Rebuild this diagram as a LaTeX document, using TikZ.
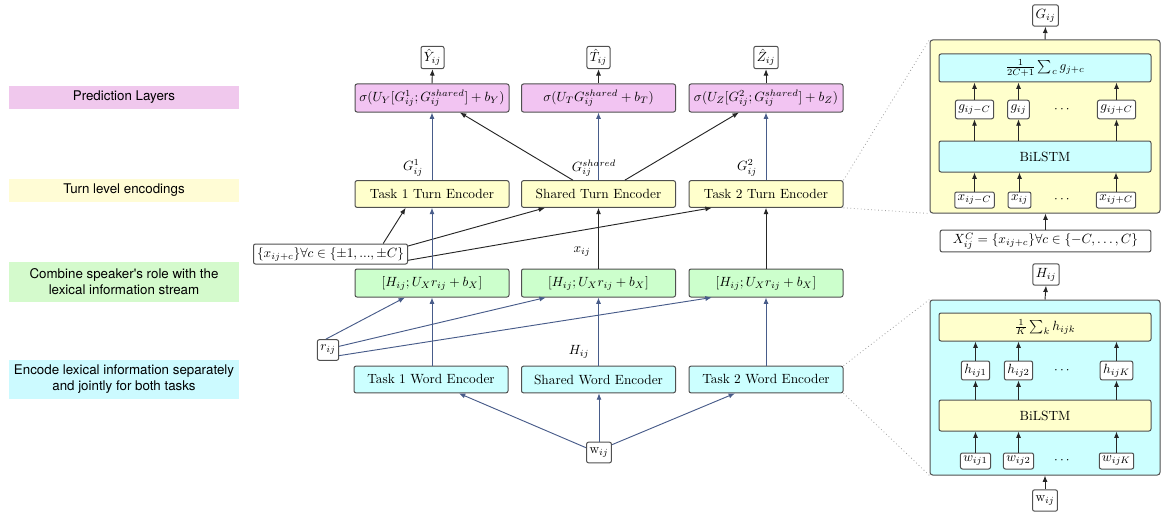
\documentclass[tikz,border=0pt]{standalone}
\usepackage{fontspec}
\usepackage{amsmath}
\newfontfamily\labelfont{TeX Gyre Heros}
\usetikzlibrary{arrows.meta,calc}
\definecolor{boxline}{RGB}{80,80,80}
\definecolor{pinkfill}{RGB}{242,196,242}
\definecolor{yellowfill}{RGB}{255,255,204}
\definecolor{greenfill}{RGB}{204,255,204}
\definecolor{cyanfill}{RGB}{204,255,255}
\definecolor{lpink}{RGB}{240,200,237}
\definecolor{lyellow}{RGB}{255,252,213}
\definecolor{lgreen}{RGB}{212,250,204}
\definecolor{lcyan}{RGB}{204,250,255}
\definecolor{arrowblue}{RGB}{72,92,138}
\definecolor{zoomgray}{RGB}{160,160,160}
\begin{document}
\begin{tikzpicture}[x=0.75pt,y=-0.75pt,
  box/.style={draw=boxline, rounded corners=1.5pt, line width=0.75pt, inner sep=2pt, align=center},
  bigbox/.style={box, minimum width=115.5pt, minimum height=20pt},
  sbox/.style={box, inner sep=2.2pt, minimum height=14pt},
  wide/.style={box, minimum width=159pt},
  panel/.style={draw=boxline, rounded corners=2pt, line width=0.75pt, minimum width=172.5pt},
  lbl/.style={minimum width=172.5pt, align=center, inner sep=0pt, font=\labelfont},
  arr/.style={-{Latex[length=4.8pt,width=3.8pt]}, line width=0.7pt, draw=black!85},
  barr/.style={arr, draw=arrowblue},
  zoomline/.style={draw=zoomgray, dotted, line width=0.6pt}
]
\useasboundingbox (0,0) rectangle (1163,517);

% ---- left labels ----
\node[lbl, fill=lpink, minimum height=17.25pt] (l1) at (124,97.5) {Prediction Layers};
\node[lbl, fill=lyellow, minimum height=17.25pt] (l2) at (124,190.5) {Turn level encodings};
\node[lbl, fill=lgreen, minimum height=30pt] (l3) at (124,282) {Combine speaker's role with the\\lexical information stream};
\node[lbl, fill=lcyan, minimum height=29.25pt] (l4) at (124,379.5) {Encode lexical information separately\\and jointly for both tasks};

% ---- outputs ----
\node[sbox] (oy) at (432.5,57.5) {$\hat{Y}_{ij}$};
\node[sbox] (ot) at (598.5,57.5) {$\hat{T}_{ij}$};
\node[sbox] (oz) at (766,57.5) {$\hat{Z}_{ij}$};

% ---- prediction layer ----
\node[bigbox, fill=pinkfill, minimum height=21pt] (p1) at (432,98) {$\sigma(U_Y[G^1_{ij};G^{shared}_{ij}]+b_Y)$};
\node[bigbox, fill=pinkfill, minimum height=21pt] (p2) at (598.5,98) {$\sigma(U_T G^{shared}_{ij}+b_T)$};
\node[bigbox, fill=pinkfill, minimum height=21pt] (p3) at (766,98) {$\sigma(U_Z[G^2_{ij};G^{shared}_{ij}]+b_Z)$};

% ---- turn encoders ----
\node[bigbox, fill=yellowfill] (te1) at (432,194) {Task 1 Turn Encoder};
\node[bigbox, fill=yellowfill] (te2) at (598.5,194) {Shared Turn Encoder};
\node[bigbox, fill=yellowfill] (te3) at (766,194) {Task 2 Turn Encoder};

% ---- combine ----
\node[bigbox, fill=greenfill, minimum height=21pt] (c1) at (432,283) {$[H_{ij};U_X r_{ij}+b_X]$};
\node[bigbox, fill=greenfill, minimum height=21pt] (c2) at (598.5,283) {$[H_{ij};U_X r_{ij}+b_X]$};
\node[bigbox, fill=greenfill, minimum height=21pt] (c3) at (766,283) {$[H_{ij};U_X r_{ij}+b_X]$};

% ---- word encoders ----
\node[bigbox, fill=cyanfill] (we1) at (431,379.5) {Task 1 Word Encoder};
\node[bigbox, fill=cyanfill] (we2) at (598.5,379.5) {Shared Word Encoder};
\node[bigbox, fill=cyanfill] (we3) at (766,379.5) {Task 2 Word Encoder};

% ---- side inputs ----
\node[box, minimum width=115.5pt, minimum height=15pt] (xc) at (330.5,254) {$\{x_{ij+c}\}\forall c\in\{\pm1,...,\pm C\}$};
\node[sbox, minimum height=15.5pt] (r) at (328,350) {$r_{ij}$};
\node[sbox, minimum height=15.5pt] (w) at (599,452.5) {$\mathrm{w}_{ij}$};

% ---- edge labels ----
\node (gl1) at (413,168) {$G^1_{ij}$};
\node (gl2) at (594,168) {$G^{shared}_{ij}$};
\node (gl3) at (747,168) {$G^2_{ij}$};
\node (xl) at (582,252) {$x_{ij}$};
\node (hl) at (579,352) {$H_{ij}$};

% ---- arrows: prediction -> outputs ----
\draw[arr] (p1.north) -- (oy.south);
\draw[arr] (p2.north) -- (ot.south);
\draw[arr] (p3.north) -- (oz.south);

% ---- turn encoders -> prediction ----
\draw[barr] (te1.north) -- (te1.north |- p1.south);
\draw[barr] (te2.north) -- (p2.south);
\draw[barr] (te3.north) -- (te3.north |- p3.south);
\draw[arr] ($(te2.north west)!0.335!(te2.north east)$) -- ($(p1.south west)!0.68!(p1.south east)$);
\draw[arr] ($(te2.north west)!0.67!(te2.north east)$) -- ($(p3.south west)!0.325!(p3.south east)$);

% ---- context -> turn encoders ----
\draw[arr] ($(xc.north west)!0.84!(xc.north east)$) -- ($(te1.south west)!0.33!(te1.south east)$);
\draw[arr] ($(xc.north east)!0.12!(xc.south east)$) -- ($(te2.south west)!0.155!(te2.south east)$);
\draw[arr] ($(xc.north east)!0.8!(xc.south east)$) -- ($(te3.south west)!0.15!(te3.south east)$);

% ---- combine -> turn encoders ----
\draw[barr] (c1.north) -- (te1.south);
\draw[arr] (c2.north) -- (te2.south);
\draw[arr] (c3.north) -- (te3.south);

% ---- role -> combine ----
\draw[barr] ($(r.north west)!0.4!(r.north east)$) -- ($(c1.south west)!0.325!(c1.south east)$);
\draw[barr] ($(r.north east)!0.33!(r.south east)$) -- ($(c2.south west)!0.16!(c2.south east)$);
\draw[barr] ($(r.north east)!0.76!(r.south east)$) -- ($(c3.south west)!0.15!(c3.south east)$);

% ---- word encoders -> combine ----
\draw[barr] (we1.north -| c1.south) -- (c1.south);
\draw[barr] (we2.north) -- (c2.south);
\draw[barr] (we3.north) -- (c3.south);

% ---- words -> word encoders ----
\draw[barr] ($(w.north west)!0.28!(w.south west)$) -- ($(we1.south west)!0.68!(we1.south east)$);
\draw[barr] (w.north) -- (w.north |- we2.south);
\draw[barr] ($(w.north east)!0.14!(w.south east)$) -- ($(we3.south west)!0.3!(we3.south east)$);

% ================= right: turn encoder detail =================
\node[panel, fill=yellowfill, minimum height=129.75pt] (tp) at (1045,126.5) {};
\node[sbox, minimum height=16pt] (gout) at (1045.5,15.5) {$G_{ij}$};
\node[box, minimum width=158pt, minimum height=15pt] (xcc) at (1045.5,241) {$X_{ij}^{C}=\{x_{ij+c}\}\forall c\in\{-C,\ldots,C\}$};
\node[wide, fill=cyanfill, minimum height=21pt] (avg1) at (1045,68) {$\frac{1}{2C+1}\sum_c g_{j+c}$};
\node[wide, fill=cyanfill, minimum height=23.25pt] (bl1) at (1045,156.5) {BiLSTM};
\node[sbox, fill=white] (ga) at (974.5,109.5) {$g_{ij-C}$};
\node[sbox, fill=white] (gb) at (1018.5,109.5) {$g_{ij}$};
\node (gd) at (1063,109.5) {$\cdots$};
\node[sbox, fill=white] (gc) at (1116.5,109.5) {$g_{ij+C}$};
\node[sbox, fill=white, minimum height=12pt] (xa) at (974.5,200) {$x_{ij-C}$};
\node[sbox, fill=white, minimum height=12pt] (xb) at (1019.5,200) {$x_{ij}$};
\node (xd) at (1063,200) {$\cdots$};
\node[sbox, fill=white, minimum height=12pt] (xe) at (1116,200) {$x_{ij+C}$};

\draw[arr] (tp.north) -- (gout.south);
\draw[arr] (xcc.north) -- (xcc.north |- tp.south);
\foreach \n in {xa,xb,xe} \draw[arr] (\n.north) -- (\n.north |- bl1.south);
\foreach \n in {ga,gb,gc} {
  \draw[arr] (\n.north |- bl1.north) -- (\n.south);
  \draw[arr] (\n.north) -- (\n.north |- avg1.south);
}

% ================= right: word encoder detail =================
\node[panel, fill=cyanfill, minimum height=131.25pt] (cp) at (1045,387.5) {};
\node[sbox, minimum height=16pt] (hout) at (1046,274.5) {$H_{ij}$};
\node[sbox, minimum height=16pt] (win) at (1045,500.5) {$\mathrm{w}_{ij}$};
\node[wide, fill=yellowfill, minimum height=21pt] (avg2) at (1045,327) {$\frac{1}{K}\sum_k h_{ijk}$};
\node[wide, fill=yellowfill, minimum height=23.25pt] (bl2) at (1045,415.5) {BiLSTM};
\node[sbox, fill=white] (ha) at (975.5,370.5) {$h_{ij1}$};
\node[sbox, fill=white] (hb) at (1018.5,370.5) {$h_{ij2}$};
\node (hd) at (1063,370.5) {$\cdots$};
\node[sbox, fill=white] (hc) at (1116.5,370.5) {$h_{ijK}$};
\node[sbox, fill=white, minimum height=12pt] (wa) at (975.5,461) {$w_{ij1}$};
\node[sbox, fill=white, minimum height=12pt] (wb) at (1018.5,461) {$w_{ij2}$};
\node (wd) at (1063,461) {$\cdots$};
\node[sbox, fill=white, minimum height=12pt] (wc) at (1116.5,461) {$w_{ijK}$};

\draw[arr] (cp.north) -- (hout.south);
\draw[arr] (win.north) -- (win.north |- cp.south);
\foreach \n in {wa,wb,wc} \draw[arr] (\n.north) -- (\n.north |- bl2.south);
\foreach \n in {ha,hb,hc} {
  \draw[arr] (\n.north |- bl2.north) -- (\n.south);
  \draw[arr] (\n.north) -- (\n.north |- avg2.south);
}

% ---- zoom lines ----
\draw[zoomline] (te3.north east) -- (tp.north west);
\draw[zoomline] (te3.south east) -- (tp.south west);
\draw[zoomline] (we3.north east) -- (cp.north west);
\draw[zoomline] (we3.south east) -- (cp.south west);
\end{tikzpicture}
\end{document}
